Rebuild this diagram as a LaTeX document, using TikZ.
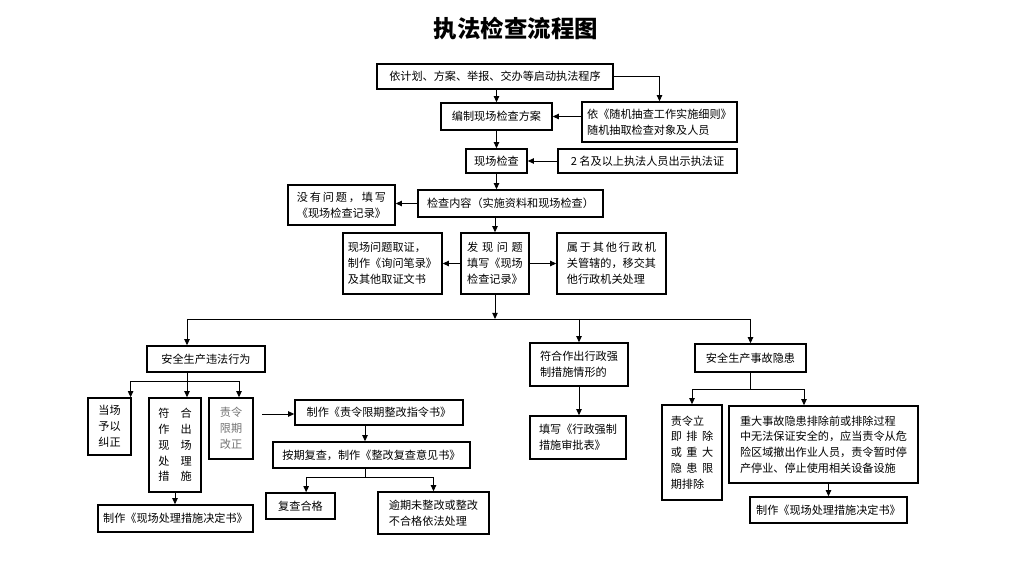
\documentclass[tikz,border=0pt]{standalone}
\usepackage{fontspec}
\setmainfont{Noto Sans CJK SC}
\usetikzlibrary{positioning,arrows.meta,calc}

\begin{document}
\begin{tikzpicture}[x=0.03cm,y=-0.03cm,
  >={Triangle[length=1.8mm,width=1.6mm]},
  kasten/.style={draw,line width=1.3pt,inner sep=1pt,align=left,font=\fontsize{9.5}{13.5}\selectfont},
  linie/.style={line width=0.8pt},
  pfeil/.style={->,line width=0.8pt}]
\useasboundingbox (0,0) rectangle (1011,573);

\node[font=\fontsize{20}{24}\selectfont\bfseries] (titel) at (516,29) {执法检查流程图};

\node[kasten,minimum width=7.08cm,minimum height=0.75cm] (start) at (495,76.5)
  {依计划、方案、举报、交办等启动执法程序};
\node[kasten,minimum width=3.33cm,minimum height=0.81cm] (plan) at (496.5,116.5)
  {编制现场检查方案};
\node[kasten,minimum width=4.65cm,minimum height=1.2cm] (zufall) at (659.5,122)
  {依《随机抽查工作实施细则》\\随机抽取检查对象及人员};
\node[kasten,minimum width=1.83cm,minimum height=0.72cm] (vorort) at (496.5,161)
  {现场检查};
\node[kasten,minimum width=5.37cm,minimum height=0.72cm] (ausweis) at (647.5,161)
  {2 名及以上执法人员出示执法证};
\node[kasten,minimum width=5.55cm,minimum height=0.81cm] (inhalt) at (510.5,203.5)
  {检查内容（实施资料和现场检查）};
\node[kasten,minimum width=3.21cm,minimum height=1.2cm] (ohne) at (341.5,205)
  {\makebox[8em]{没\hfill 有\hfill 问\hfill 题\hfill ，\hfill 填\hfill 写}\\《现场检查记录》};

\node[kasten,minimum width=2.04cm,minimum height=1.83cm] (befund) at (495,263.5)
  {\makebox[5em]{发\hfill 现\hfill 问\hfill 题}\\填写《现场\\检查记录》};
\node[kasten,minimum width=2.97cm,minimum height=1.83cm] (beweis) at (392.5,263.5)
  {现场问题取证，\\制作《询问笔录》\\及其他取证文书};
\node[kasten,minimum width=3.27cm,minimum height=1.83cm] (andere) at (611.5,263.5)
  {\makebox[8em]{属\hfill 于\hfill 其\hfill 他\hfill 行\hfill 政\hfill 机}\\关管辖的，移交其\\他行政机关处理};

\coordinate (busL) at (187,319);

\node[kasten,minimum width=3.54cm,minimum height=0.78cm] (verstoss) at (206,359)
  {安全生产违法行为};
\node[kasten,minimum width=2.94cm,minimum height=1.29cm] (zwang) at (579,364.5)
  {符合作出行政强\\制措施情形的};
\node[kasten,minimum width=3.33cm,minimum height=0.84cm] (gefahr) at (750.5,358)
  {安全生产事故隐患};

\coordinate (vgabel) at (187,381);
\node[kasten,minimum width=1.29cm,minimum height=1.71cm] (sofort) at (109.5,426.5)
  {当场\\予以\\纠正};
\node[kasten,minimum width=1.56cm,minimum height=2.82cm] (massn) at (175,445)
  {\makebox[3em]{符\hfill 合}\\\makebox[3em]{作\hfill 出}\\\makebox[3em]{现\hfill 场}\\\makebox[3em]{处\hfill 理}\\\makebox[3em]{措\hfill 施}};
\node[kasten,minimum width=1.32cm,minimum height=1.83cm,text=black!55] (frist) at (231,428.5)
  {责令\\限期\\改正};
\node[kasten,minimum width=4.65cm,minimum height=0.81cm] (beschl) at (175.5,518.5)
  {制作《现场处理措施决定书》};

\coordinate (fpfeil) at (262,414);
\node[kasten,minimum width=5.04cm,minimum height=0.75cm] (weisung) at (379,412.5)
  {制作《责令限期整改指令书》};
\node[kasten,minimum width=5.91cm,minimum height=0.78cm] (nachpr) at (371.5,455)
  {按期复查，制作《整改复查意见书》};
\coordinate (ngabel) at (365,477);
\node[kasten,minimum width=2.07cm,minimum height=0.78cm] (ok) at (300.5,506)
  {复查合格};
\node[kasten,minimum width=3.33cm,minimum height=1.26cm] (verzug) at (433.5,513)
  {逾期未整改或整改\\不合格依法处理};

\node[kasten,minimum width=2.88cm,minimum height=1.29cm] (antrag) at (578,437.5)
  {填写《行政强制\\措施审批表》};

\coordinate (ggabel) at (749,389);
\node[kasten,minimum width=1.8cm,minimum height=2.85cm] (sofortg) at (692,452.5)
  {责令立\\\makebox[3.8em]{即\hfill 排\hfill 除}\\\makebox[3.8em]{或\hfill 重\hfill 大}\\\makebox[3.8em]{隐\hfill 患\hfill 限}\\期排除};
\node[kasten,minimum width=5.67cm,minimum height=2.31cm] (gross) at (823.5,444.5)
  {重大事故隐患排除前或排除过程\\中无法保证安全的，应当责令从危\\险区域撤出作业人员，责令暂时停\\产停业、停止使用相关设备设施};
\node[kasten,minimum width=4.71cm,minimum height=0.78cm] (beschlg) at (828.5,510)
  {制作《现场处理措施决定书》};

\draw[pfeil] (start.east) -| (zufall.north);
\draw[pfeil] (plan.north |- start.south) -- (plan.north);
\draw[pfeil] (zufall.west |- plan) -- (plan.east);
\draw[pfeil] (plan.south) -- (vorort.north);
\draw[pfeil] (ausweis.west) -- (vorort.east);
\draw[pfeil] (vorort.south) -- (vorort.south |- inhalt.north);
\draw[pfeil] (inhalt.west) -- (inhalt.west -| ohne.east);
\draw[pfeil] (inhalt.south -| befund) -- (befund.north);
\draw[pfeil] (befund.west) -- (beweis.east);
\draw[pfeil] (befund.east) -- (andere.west);

\draw[pfeil] (befund.south) -- (befund.south |- busL);
\draw[linie] (busL) -- (busL -| gefahr.north);
\draw[pfeil] (busL) -- (busL |- verstoss.north);
\draw[pfeil] (busL -| zwang.north) -- (zwang.north);
\draw[pfeil] (busL -| gefahr.north) -- (gefahr.north);

\draw[linie] (busL |- verstoss.south) -- (vgabel);
\draw[pfeil] (vgabel) -| ([xshift=-1pt]sofort.north east);
\draw[pfeil] (vgabel) -- (vgabel |- massn.north);
\draw[pfeil] (vgabel) -| ([xshift=0.24cm]frist.north);
\draw[pfeil] (massn.south) -- (massn.south |- beschl.north);

\draw[pfeil] (fpfeil) -- (fpfeil -| weisung.west);
\draw[pfeil] (ngabel |- weisung.south) -- (ngabel |- nachpr.north);
\draw[linie] (ngabel |- nachpr.south) -- (ngabel);
\draw[pfeil] (ngabel) -| ([xshift=0.17cm]ok.north);
\draw[pfeil] (ngabel) -| (verzug.north);

\draw[pfeil] (zwang.south) -- (zwang.south |- antrag.north);

\draw[linie] (gefahr.south) -- (gefahr.south |- ggabel);
\draw[pfeil] (gefahr.south |- ggabel) -| (sofortg.north);
\draw[pfeil] (gefahr.south |- ggabel) -| ([xshift=-0.585cm]gross.north);
\draw[pfeil] (beschlg.north |- gross.south) -- (beschlg.north);

\end{tikzpicture}
\end{document}
